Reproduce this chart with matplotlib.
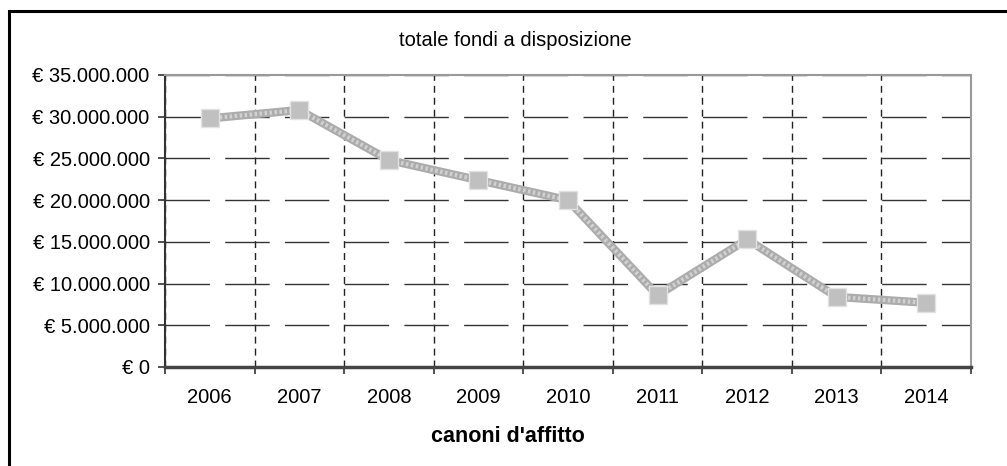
import matplotlib
matplotlib.use('Agg')
from matplotlib import pyplot as plt
from matplotlib.ticker import FuncFormatter, MultipleLocator, FixedLocator
from matplotlib.patches import Rectangle

plt.rcParams['font.family'] = ['Liberation Sans', 'DejaVu Sans']

years = ['2006', '2007', '2008', '2009', '2010', '2011', '2012', '2013', '2014']
fondi = [29800000, 30800000, 24800000, 22400000, 20000000, 8600000, 15300000, 8400000, 7700000]


def euro(v, pos):
    if v == 0:
        return '€ 0'
    return '€ ' + format(int(v), ',').replace(',', '.')


fig = plt.figure(figsize=(10.07, 4.66), dpi=100)
# cornice esterna del grafico
fig.patches.append(Rectangle((9 / 1007, -0.1), 1.2, 1 - 11 / 466 + 0.1, transform=fig.transFigure,
                             fill=False, ec='black', lw=2.2))

ax = fig.add_axes([165 / 1007, 1 - 367 / 466, (971 - 165) / 1007, (367 - 75) / 466])
x = list(range(len(years)))

ax.set_xlim(-0.5, len(years) - 0.5)
ax.set_ylim(0, 35000000)
ax.yaxis.set_major_locator(MultipleLocator(5000000))
ax.yaxis.set_major_formatter(FuncFormatter(euro))

ax.set_xticks(x)
ax.set_xticklabels(years)
ax.xaxis.set_minor_locator(FixedLocator([i - 0.5 for i in range(len(years) + 1)]))
ax.tick_params(axis='x', which='major', length=0, pad=15, labelsize=14.5)
ax.tick_params(axis='x', which='minor', length=5, width=1.2, color='#333333', direction='out')
ax.tick_params(axis='y', length=5, width=1.2, color='#333333', labelsize=14.5, pad=6)

ax.grid(axis='y', which='major', color='#333333', lw=1, linestyle=(0, (32, 11)))
ax.grid(axis='x', which='minor', color='#222222', lw=1, linestyle=(0, (5, 3.6)))
ax.set_axisbelow(True)

ax.spines['left'].set_color('#333333')
ax.spines['left'].set_linewidth(1.5)
ax.spines['bottom'].set_color('#444444')
ax.spines['bottom'].set_linewidth(2.5)
ax.spines['top'].set_color('#999999')
ax.spines['top'].set_linewidth(1.5)
ax.spines['right'].set_color('#999999')
ax.spines['right'].set_linewidth(1.5)

# linea retinata: base grigia con puntinatura chiara sopra
ax.plot(x, fondi, color='#acacac', lw=6, zorder=3, solid_capstyle='butt')
ax.plot(x, fondi, color='white', lw=3, alpha=0.45, linestyle=(0, (0.6, 0.6)), zorder=3)
ax.plot(x, fondi, linestyle='none', marker='s', markersize=12.5, markerfacecolor='#c0c0c0',
        markeredgecolor='#e2e2e2', markeredgewidth=1, zorder=4)

fig.text(515 / 1007, 1 - 40 / 466, 'totale fondi a disposizione', ha='center', va='center', fontsize=14.5)
fig.text(508 / 1007, 1 - 437 / 466, "canoni d'affitto", ha='center', va='center',
         fontsize=15.5, fontweight='bold')

plt.savefig('out.png', dpi=100)
